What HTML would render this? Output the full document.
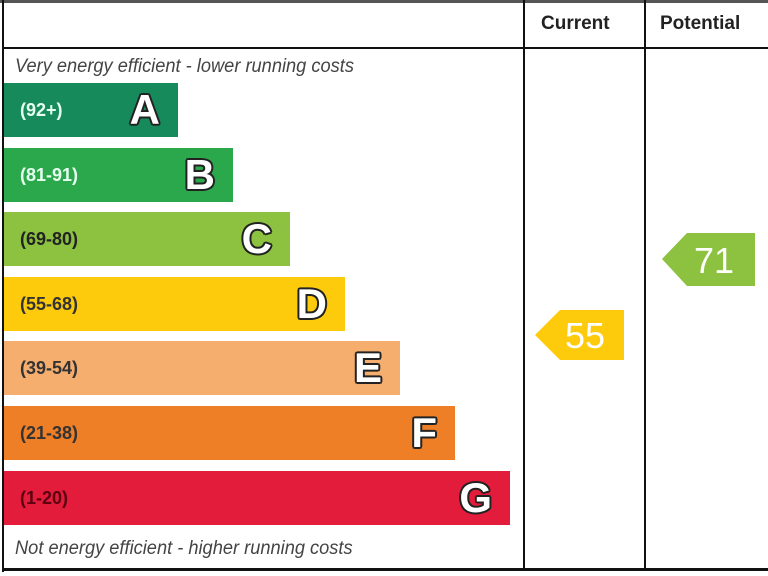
<!DOCTYPE html>
<html><head><style>
body{margin:0;width:768px;height:576px;background:#fff;overflow:hidden;position:relative;font-family:"Liberation Sans",sans-serif}
.l{position:absolute;background:#111}
.bar{position:absolute;left:4px;height:54px}
.r{position:absolute;left:16px;top:17px;font-size:18px;font-weight:bold}
.let{position:absolute;right:18px;top:3px;font-size:42px;font-weight:bold;color:#fff;text-shadow:2px 0 0 #222,-2px 0 0 #222,0 2px 0 #222,0 -2px 0 #222,1.5px 1.5px 0 #222,-1.5px -1.5px 0 #222,1.5px -1.5px 0 #222,-1.5px 1.5px 0 #222}
.it{position:absolute;left:15px;font-style:italic;font-size:19px;color:#444;transform:scaleX(0.96);transform-origin:left}
.h{position:absolute;top:13px;font-size:19px;font-weight:bold;color:#222}
</style></head><body>
<div class="l" style="left:0;top:0;width:768px;height:3px;background:#555"></div>
<div class="l" style="left:2px;top:0;width:2px;height:572px"></div>
<div class="l" style="left:2px;top:47px;width:766px;height:2px"></div>
<div class="l" style="left:2px;top:568px;width:766px;height:3px"></div>
<div class="l" style="left:523px;top:0;width:2px;height:570px"></div>
<div class="l" style="left:644px;top:0;width:2px;height:570px"></div>
<div class="h" style="left:541px">Current</div>
<div class="h" style="left:660px">Potential</div>
<div class="it" style="top:56px">Very energy efficient - lower running costs</div>
<div class="it" style="top:538px">Not energy efficient - higher running costs</div>
<div class="bar" style="top:83px;width:174px;background:#178a5c"><span class="r" style="color:#e6fff0">(92+)</span><span class="let">A</span></div>
<div class="bar" style="top:148px;width:229px;background:#2aa84b"><span class="r" style="color:#e6fff0">(81-91)</span><span class="let">B</span></div>
<div class="bar" style="top:212px;width:286px;background:#8cc23f"><span class="r" style="color:#222">(69-80)</span><span class="let">C</span></div>
<div class="bar" style="top:277px;width:341px;background:#fdcb0b"><span class="r" style="color:#333">(55-68)</span><span class="let">D</span></div>
<div class="bar" style="top:341px;width:396px;background:#f6ae6e"><span class="r" style="color:#333">(39-54)</span><span class="let">E</span></div>
<div class="bar" style="top:406px;width:451px;background:#ef7f26"><span class="r" style="color:#333">(21-38)</span><span class="let">F</span></div>
<div class="bar" style="top:471px;width:506px;background:#e41c3b"><span class="r" style="color:#5a0010">(1-20)</span><span class="let">G</span></div>
<svg style="position:absolute;left:0;top:0" width="768" height="576">
<polygon points="535,335 560,310 624,310 624,360 560,360" fill="#fdcb0b"/>
<polygon points="662,259 687,233 755,233 755,286 687,286" fill="#8cc23f"/>
<text x="585" y="348" font-family="Liberation Sans" font-size="36" fill="#fff" text-anchor="middle">55</text>
<text x="714" y="273" font-family="Liberation Sans" font-size="36" fill="#fff" text-anchor="middle">71</text>
</svg>
</body></html>
